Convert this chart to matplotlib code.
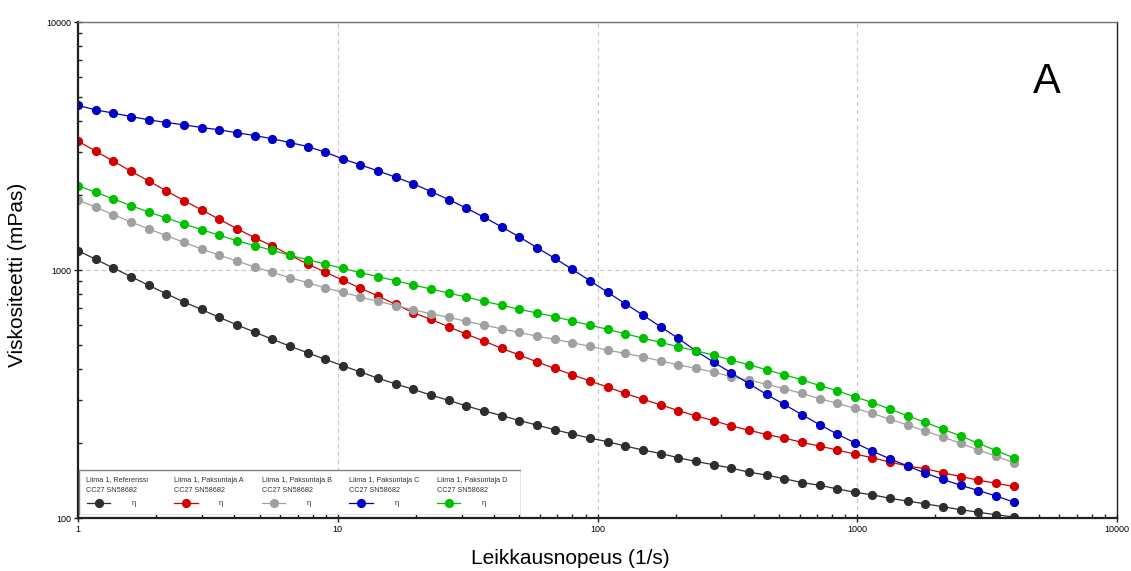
import numpy as np
import matplotlib.pyplot as plt
from matplotlib.patches import Rectangle

plt.rcParams['font.family'] = ['Liberation Sans', 'DejaVu Sans']

# shear rate (1/s), log spaced 1 ... 4000
shear_rate = [1.0, 1.169, 1.368, 1.599, 1.870, 2.187, 2.557, 2.991, 3.497, 4.090,
              4.783, 5.593, 6.541, 7.649, 8.945, 10.46, 12.23, 14.30, 16.73, 19.56,
              22.87, 26.75, 31.28, 36.58, 42.78, 50.03, 58.50, 68.41, 80.00, 93.56,
              109.4, 127.9, 149.6, 175.0, 204.6, 239.3, 279.8, 327.2, 382.7, 447.5,
              523.3, 611.9, 715.6, 836.8, 978.6, 1144, 1338, 1565, 1830, 2140,
              2503, 2927, 3423, 4000]

eta_ref = [1196, 1105, 1019, 940, 868, 802, 743, 693, 644, 601,
           562, 526, 493, 464, 436, 411, 388, 366, 347, 330,
           313, 298, 283, 270, 259, 247, 237, 227, 218, 210,
           203, 195, 188, 182, 175, 169, 164, 159, 153, 149,
           144, 139, 135.5, 131, 127, 124, 120, 117, 114, 111,
           108, 105.5, 103, 101]

eta_a = [3309, 3015, 2747, 2502, 2287, 2084, 1905, 1747, 1602, 1468,
         1350, 1250, 1149, 1057, 981, 909, 844, 785, 726, 672,
         632, 590, 551, 517, 483, 454, 426, 401, 378, 357,
         337, 318, 301, 286, 271, 258, 247, 235, 226, 217,
         210, 202, 195, 188, 181, 175, 168, 162, 158, 152,
         147, 142, 138, 134]

eta_b = [1917, 1791, 1672, 1562, 1464, 1376, 1293, 1216, 1146, 1087,
         1028, 979, 931, 889, 848, 813, 778, 747, 719, 690,
         666, 644, 621, 600, 579, 560, 541, 525, 509, 492,
         475, 461, 446, 430, 415, 401, 388, 371, 360, 346,
         332, 318, 303, 290, 277, 264, 250, 237, 224, 212,
         200, 188, 177.5, 167]

eta_c = [4606, 4424, 4291, 4158, 4033, 3933, 3850, 3754, 3675, 3574,
         3486, 3381, 3266, 3147, 2987, 2806, 2653, 2509, 2366, 2225,
         2071, 1922, 1775, 1632, 1492, 1359, 1230, 1115, 1006, 905,
         813, 731, 658, 590, 530, 472, 425, 385, 348, 315,
         287, 261, 238, 218, 201, 186, 173, 162, 151.5, 143,
         135.5, 129, 122.7, 116]

eta_d = [2189, 2059, 1934, 1818, 1714, 1621, 1533, 1455, 1381, 1313,
         1254, 1201, 1146, 1100, 1057, 1016, 975, 940, 905, 870,
         838, 807, 778, 747, 721, 694, 671, 649, 622, 600,
         576, 553, 531, 511, 490, 472, 454, 433, 415, 396,
         378, 361, 342, 326, 308, 292, 275, 258, 243, 228,
         214, 200, 187, 175]

names = ["Liima 1, Referenssi", "Liima 1, Paksuntaja A", "Liima 1, Paksuntaja B",
         "Liima 1, Paksuntaja C", "Liima 1, Paksuntaja D"]
device = "CC27 SN58682"
colors = ["#2e2e2e", "#d40000", "#a0a0a0", "#0000c8", "#00c000"]
series = [eta_ref, eta_a, eta_b, eta_c, eta_d]

fig = plt.figure(figsize=(11.31, 5.71), dpi=100)
ax = fig.add_axes([78 / 1131, 1 - 518 / 571, (1117 - 78) / 1131, (518 - 22) / 571])

for eta, c in zip(series, colors):
    ax.plot(shear_rate, eta, color=c, lw=0.9, marker="o", ms=5.6,
            mec=c, mfc=c)

ax.set_xscale("log")
ax.set_yscale("log")
ax.set_xlim(1, 10000)
ax.set_ylim(100, 10000)

ax.set_xticks([1, 10, 100, 1000, 10000], labels=["1", "10", "100", "1000", "10000"])
ax.set_yticks([100, 1000, 10000], labels=["100", "1000", "10000"])
ax.set_xticks([m * d for d in (1, 10, 100, 1000) for m in range(2, 10)], minor=True)
ax.set_yticks([m * d for d in (100, 1000) for m in range(2, 10)], minor=True)
ax.tick_params(which="major", direction="inout", length=6, width=1, labelsize=6.5,
               color="#202020", pad=2)
ax.tick_params(which="minor", direction="in", length=3, width=1, color="#202020")
ax.tick_params(axis="y", which="minor", labelleft=False)
ax.tick_params(axis="x", which="minor", labelbottom=False)

ax.grid(which="major", color="#c8c8c8", ls=(0, (4, 3)), lw=0.8)
ax.set_axisbelow(True)
for side in ("left", "bottom"):
    ax.spines[side].set_linewidth(1.6)
    ax.spines[side].set_color("#202020")
ax.spines["top"].set_color("#707070")
ax.spines["top"].set_linewidth(1.0)
ax.spines["right"].set_color("#202020")
ax.spines["right"].set_linewidth(1.0)

fig.text(570 / 1131, 1 - 558 / 571, "Leikkausnopeus (1/s)", ha="center", va="center",
         fontsize=15)
fig.text(18 / 1131, 1 - 275 / 571, "Viskositeetti (mPas)", ha="center", va="center",
         rotation=90, fontsize=15)
fig.text(1047 / 1131, 1 - 82 / 571, "A", ha="center", va="center", fontsize=30)

# legend panel (pixel coordinates inside the box)
lw_px, lh_px = 443, 46
lax = fig.add_axes([78 / 1131, 1 - 515 / 571, lw_px / 1131, lh_px / 571])
lax.set_xlim(0, lw_px)
lax.set_ylim(lh_px, 0)
lax.axis("off")
lax.add_patch(Rectangle((0.5, 0.5), lw_px - 1, lh_px - 1, fill=True, fc="white",
                        ec="#808080", lw=1))
for i, (name, c) in enumerate(zip(names, colors)):
    x0 = 8.5 + 87.6 * i
    lax.text(x0, 11, name, fontsize=5.2, color="#333333", va="center")
    lax.text(x0, 21.3, device, fontsize=5.2, color="#333333", va="center")
    lax.plot([x0, x0 + 23.5], [33.7, 33.7], color=c, lw=0.9)
    lax.plot([x0 + 12], [33.7], marker="o", ms=5.6, color=c)
    lax.text(x0 + 45, 34.5, "η", fontsize=5.5, color="#333333", va="center")

fig.savefig("out.png", dpi=100)
